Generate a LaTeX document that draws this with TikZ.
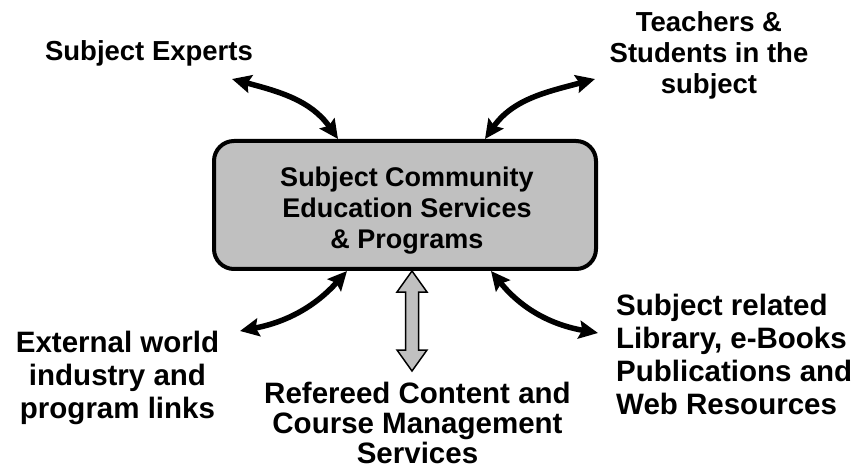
\documentclass[tikz,border=0pt]{standalone}
\usepackage{fontspec}
\setmainfont{Liberation Sans}
\usetikzlibrary{arrows.meta}
\definecolor{boxgray}{RGB}{192,192,192}

\begin{document}
\begin{tikzpicture}[x=1pt,y=1pt]
	\tikzstyle{hub}=[rectangle, rounded corners=20pt, draw=black, line width=4pt, fill=boxgray, minimum width=382pt, minimum height=128pt]
	\tikzstyle{hubtext}=[align=center, inner sep=0pt, font=\bfseries\fontsize{27}{31}\selectfont]
	\tikzstyle{small}=[align=center, inner sep=0pt, font=\bfseries\fontsize{27.5}{31}\selectfont]
	\tikzstyle{big}=[align=center, inner sep=0pt, font=\bfseries\fontsize{29.5}{33}\selectfont]
	\tikzstyle{connect}=[{Stealth[length=19pt,width=18pt,inset=3pt]}-{Stealth[length=19pt,width=18pt,inset=3pt]}, line width=5.5pt]
	\tikzstyle{dblarrow}=[draw=black, fill=boxgray, line width=1.5pt, line join=miter]
	\useasboundingbox (0,0) rectangle (859,-470);
	\node[hub] (hub) at (405,-205) [label={[hubtext, xshift=2pt, yshift=-6pt]center:Subject Community\\Education Services\\\& Programs}] {};
	\node[small] (experts) at (149,-53.5) {Subject Experts};
	\node[small] (teachers) at (709,-55) {Teachers \&\\Students in the\\subject};
	\node[big] (external) at (117.5,-378) {External world\\industry and\\program links};
	\node[big, font=\bfseries\fontsize{29.5}{30}\selectfont] (refereed) at (417.5,-422.5) {Refereed Content and\\Course Management\\Services};
	\node[big, align=left, anchor=west] (library) at (616,-354) {Subject related\\Library, e-Books\\Publications and\\Web Resources};
	% arrow ends
	\coordinate (expTip) at (232,-79);
	\coordinate (teaTip) at (595,-79);
	\coordinate (extTip) at (240,-331);
	\coordinate (libTip) at (598,-333);
	\coordinate (hubExp) at ([xshift=-67pt]hub.north);
	\coordinate (hubTea) at ([xshift=80pt]hub.north);
	\coordinate (hubExt) at ([xshift=-58pt]hub.south);
	\coordinate (hubLib) at ([xshift=86pt]hub.south);
	\coordinate (hubRef) at ([xshift=7pt]hub.south);
	\path (expTip) edge [connect, out=-15, in=125] (hubExp)
	(hubTea) edge [connect, out=55, in=195] (teaTip)
	(hubExt) edge [connect, out=-132, in=11] (extTip)
	(hubLib) edge [connect, out=-51, in=170] (libTip);
	\draw[dblarrow] (hubRef) -- ++(15,-21) -- ++(-8.5,0) -- ++(0,-58) -- ++(8.5,0) -- ++(-15,-21) -- ++(-15,21) -- ++(8.5,0) -- ++(0,58) -- ++(-8.5,0) -- cycle;
\end{tikzpicture}
\end{document}
